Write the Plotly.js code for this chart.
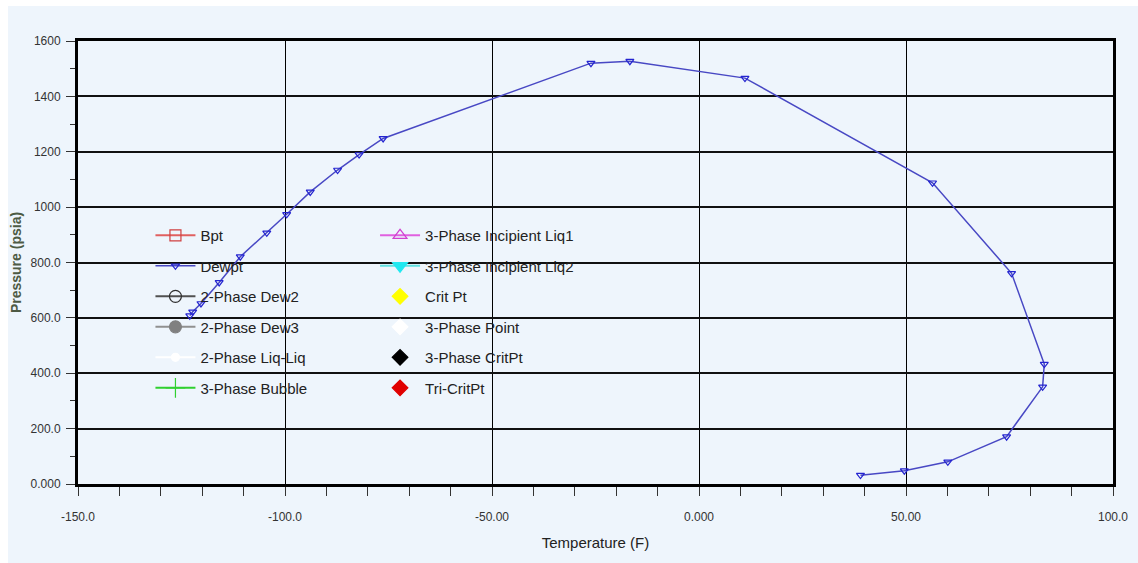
<!DOCTYPE html>
<html>
<head>
<meta charset="utf-8">
<script src="https://cdn.plot.ly/plotly-3.0.1.min.js"></script>
<style>
html,body{margin:0;padding:0;background:#ffffff;width:1138px;height:563px;overflow:hidden;}
#chart{position:absolute;left:8px;top:6px;width:1130px;height:557px;}
</style>
</head>
<body>
<div id="chart"></div>
<script>
// Dew point curve
const temperature = [-123.0, -122.3, -120.3, -115.9, -110.8, -104.4, -99.6, -93.9, -87.3, -82.1, -76.3, -26.1, -16.7, 11.1, 56.4, 75.5, 83.4, 83.0, 74.3, 60.1, 49.6, 39.0];
const pressure = [608, 622, 652, 728, 821, 907, 974, 1055, 1134, 1190, 1248, 1520, 1527, 1466, 1088, 761, 433, 351, 171, 80, 48, 32];

// Axis ticks
const xTickVals = [-150, -100, -50, 0, 50, 100];
const xTickText = ["-150.0", "-100.0", "-50.00", "0.000", "50.00", "100.0"];
const yTickVals = [0, 200, 400, 600, 800, 1000, 1200, 1400, 1600];
const yTickText = ["0.000", "200.0", "400.0", "600.0", "800.0", "1000", "1200", "1400", "1600"];

// Legend series names
const legendCol1 = ["Bpt", "Dewpt", "2-Phase Dew2", "2-Phase Dew3", "2-Phase Liq-Liq", "3-Phase Bubble"];
const legendCol2 = ["3-Phase Incipient Liq1", "3-Phase Incipient Liq2", "Crit Pt", "3-Phase Point", "3-Phase CritPt", "Tri-CritPt"];

const FONT = "'Liberation Sans Narrow', 'Arial Narrow', 'Liberation Sans', Arial, sans-serif";

function emptyTrace(name, legend, mode, lineColor, symbol, mColor, mLineColor, size) {
  return {
    x: [null], y: [null], name: name, type: 'scatter', mode: mode,
    legend: legend, legendgroup: name,
    line: {color: lineColor, width: 2},
    marker: {symbol: symbol, color: mColor, size: size, line: {color: mLineColor, width: 1.2}},
    hoverinfo: 'skip'
  };
}

const traces = [
  emptyTrace(legendCol1[0], 'legend', 'lines+markers', '#e06060', 'square-open', '#d04040', '#d04040', 11),
  {
    x: temperature, y: pressure, name: legendCol1[1], type: 'scatter', mode: 'lines+markers',
    legend: 'legend', legendgroup: legendCol1[1],
    line: {color: '#4848c4', width: 1.5},
    marker: {symbol: 'triangle-down-open', color: '#2424d0', size: 7, line: {color: '#2424d0', width: 1.2}}
  },
  emptyTrace(legendCol1[2], 'legend', 'lines+markers', '#505050', 'circle-open', '#303030', '#303030', 12),
  emptyTrace(legendCol1[3], 'legend', 'lines+markers', '#909090', 'circle', '#808080', '#808080', 12),
  emptyTrace(legendCol1[4], 'legend', 'lines+markers', '#ffffff', 'circle', '#ffffff', '#ffffff', 8),
  emptyTrace(legendCol1[5], 'legend', 'lines+markers', '#30d030', 'cross-thin', '#30d030', '#30d030', 14),
  emptyTrace(legendCol2[0], 'legend2', 'lines+markers', '#e060e0', 'triangle-up-open', '#d040d0', '#d040d0', 12),
  emptyTrace(legendCol2[1], 'legend2', 'lines+markers', '#60e0e0', 'triangle-down', '#20e8f0', '#20e8f0', 13),
  emptyTrace(legendCol2[2], 'legend2', 'markers', '#ffff00', 'diamond', '#ffff00', '#ffff00', 12),
  emptyTrace(legendCol2[3], 'legend2', 'markers', '#ffffff', 'diamond', '#ffffff', '#ffffff', 12),
  emptyTrace(legendCol2[4], 'legend2', 'markers', '#000000', 'diamond', '#000000', '#000000', 12),
  emptyTrace(legendCol2[5], 'legend2', 'markers', '#e00000', 'diamond', '#e00000', '#e00000', 12)
];

const legendBase = {
  bgcolor: 'rgba(0,0,0,0)', borderwidth: 0,
  font: {family: FONT, size: 15, color: '#222222'},
  traceorder: 'grouped', tracegroupgap: 8,
  itemwidth: 40, xanchor: 'left', yanchor: 'top',
  xref: 'paper', yref: 'paper', itemclick: false
};

const layout = {
  width: 1130, height: 557,
  margin: {l: 70, r: 25, t: 35, b: 79},
  paper_bgcolor: '#eef5fc',
  plot_bgcolor: '#eef5fc',
  showlegend: true,
  legend: Object.assign({}, legendBase, {x: 0.07, y: 0.598}),
  legend2: Object.assign({}, legendBase, {x: 0.287, y: 0.598}),
  xaxis: {
    range: [-150, 100], tickvals: xTickVals, ticktext: xTickText,
    showgrid: true, gridcolor: '#000000', gridwidth: 1, zeroline: false,
    showline: true, linecolor: '#000000', linewidth: 3, mirror: true,
    ticks: 'outside', ticklen: 9, tickcolor: '#333333', tickwidth: 1,
    minor: {dtick: 10, ticks: 'outside', ticklen: 9, tickcolor: '#333333', showgrid: false},
    ticklabelstandoff: 11,
    tickfont: {family: FONT, size: 12, color: '#333333'},
    title: {text: 'Temperature (F)', font: {family: FONT, size: 15, color: '#222222'}, standoff: 15}
  },
  yaxis: {
    range: [0, 1600], tickvals: yTickVals, ticktext: yTickText,
    showgrid: true, gridcolor: '#111111', gridwidth: 1.6, zeroline: false,
    showline: true, linecolor: '#000000', linewidth: 3, mirror: true,
    ticks: 'outside', ticklen: 9, tickcolor: '#333333', tickwidth: 1,
    minor: {dtick: 100, ticks: 'outside', ticklen: 5, tickcolor: '#333333', showgrid: false},
    ticklabelstandoff: 3,
    tickfont: {family: FONT, size: 12, color: '#333333'},
    title: {text: '<b>Pressure (psia)</b>', font: {family: "'Liberation Sans', Arial, sans-serif", size: 14, color: '#4d5a44'}, standoff: 8}
  }
};

Plotly.newPlot('chart', traces, layout, {displayModeBar: false, responsive: false});
</script>
</body>
</html>
